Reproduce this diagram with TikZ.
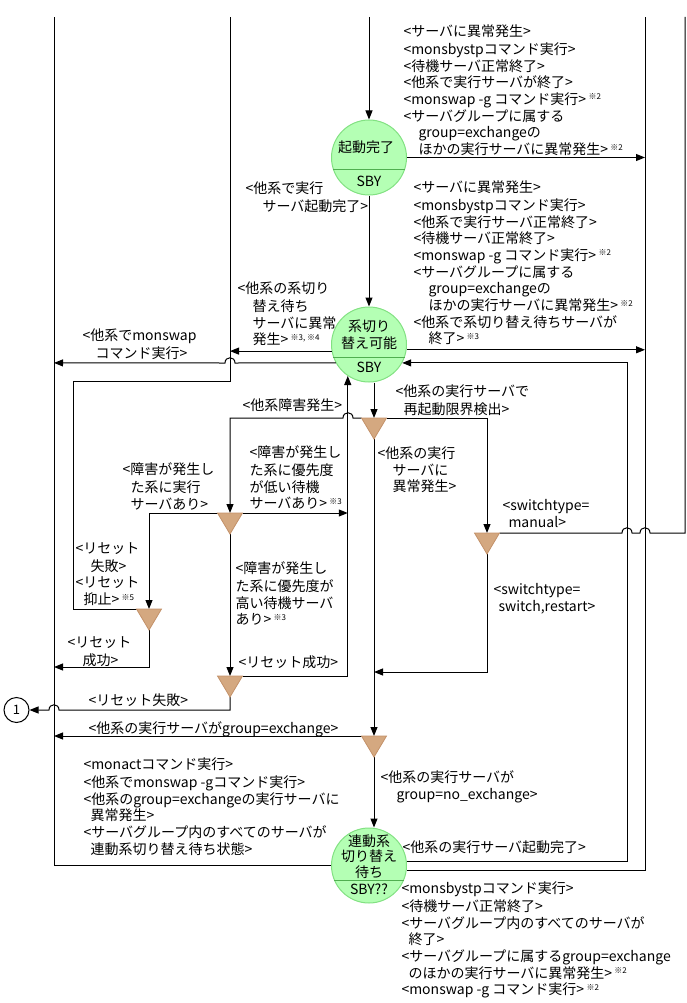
\documentclass[tikz,border=0pt]{standalone}
\usepackage{fontspec}
\setmainfont{Noto Sans CJK JP}
\usetikzlibrary{arrows.meta,calc}
\definecolor{stfill}{RGB}{180,255,180}
\definecolor{stdraw}{RGB}{130,225,130}
\definecolor{stline}{RGB}{80,175,80}
\definecolor{trfill}{RGB}{212,168,128}
\definecolor{trdraw}{RGB}{195,145,105}
\newcommand{\knote}[1]{\,\raisebox{4.5pt}{\fontsize{8}{8}\selectfont #1}}
\begin{document}
\begin{tikzpicture}[x=1pt,y=-1pt,line width=1pt,
  arr/.style={-{Triangle[length=9pt,width=7pt]}},
  stnode/.style={circle,minimum size=75pt,inner sep=0pt,fill=stfill,draw=stdraw,line width=1pt},
  tri/.style={rectangle,minimum width=25pt,minimum height=21pt,inner sep=0pt,outer sep=0pt},
  trishape/.style={fill=trfill,draw=trdraw,line width=0.8pt},
  lbl/.style={inner sep=0pt,anchor=north west,align=left,font=\fontsize{14}{16.7}\selectfont},
  stxt/.style={inner sep=0pt,align=center,font=\fontsize{14}{17}\selectfont},
]
\useasboundingbox (0,0) rectangle (687,1003);

% bus ends at the top
\coordinate (topL) at (54,17);
\coordinate (topA) at (230,17);
\coordinate (topM) at (369,17);
\coordinate (topR) at (645,17);
\coordinate (topRR) at (685,17);
\coordinate (xRet) at (627,0);
\coordinate (y667) at (0,667);
\coordinate (y672) at (0,672);
\coordinate (y710) at (0,710);

% states
\node[stnode] (S1) at (369,157.5) {};
\node[stnode] (S2) at (369,344.5) {};
\node[stnode] (S3) at (369,865.5) {};
\draw[stline] (S1.-19.47) -- (S1.199.47);
\draw[stline] (S2.-20.3) -- (S2.200.3);
\draw[stline] (S3.-24.4) -- (S3.204.4);
\node[stxt] (S1n) at (366,147) {起動完了};
\node[stxt] (S1s) at (369,181) {SBY};
\node[stxt] (S2n) at (369,334.5) {系切り\\替え可能};
\node[stxt] (S2s) at (369,367) {SBY};
\node[stxt,font=\fontsize{14}{15.5}\selectfont] (S3n) at (369,856.5) {連動系\\切り替え\\待ち};
\node[stxt] (S3s) at (369,889) {SBY??};

% decision triangles
\node[tri] (T1) at (374,428.5) {};
\node[tri] (T2) at (230,523.5) {};
\node[tri] (T3) at (149,619.5) {};
\node[tri] (T4) at (487,543.5) {};
\node[tri] (T5) at (230,686.5) {};
\node[tri] (T6) at (374,746.5) {};

% connector end circle
\node[circle,draw,minimum size=25pt,inner sep=0pt,font=\fontsize{13}{13}\selectfont] (C1) at (16.5,710) {1};

% connectors
\draw[arr] (topM) -- (S1.north);
\draw[arr] (S1.east) -- (S1.east -| topR);
\draw[arr] (S1.south) -- (S2.north);
\draw[arr] (S2.-8.4) -- (S2.-8.4 -| topR);
\draw[arr] (S2.190) -- (S2.190 -| topA);
\draw[arr] (S2.209.6) -- (235,363) .. controls (235,356) and (225,356) .. (225,363) -- (S2.209.6 -| topL);
\draw[arr] (S3.6.9) -| (S2.-29.6 -| xRet) -- (S2.-29.6);
\draw (S3.-8.4) -| (topR);
\draw (S3.west) -| (topL);
\draw[arr] (T1.north |- S2.south) -- (T1.north);
\draw[arr] (T1.north west) -- (353,418) .. controls (353,411) and (343,411) .. (343,418) -- (T2.north |- T1.north west) -- (T2.north);
\draw[arr] (T1.north east) -| (T4.north);
\draw[arr] (T1.south) -- (T6.north);
\draw[arr] (T2.north east) -- (T2.north east -| S2.236);
\draw[arr] (T5.north east) -| (S2.236);
\draw[arr] (T2.north west) -| (T3.north);
\draw[arr] (T2.south) -- (T5.north);
\draw[arr] (T3.south) |- (topL |- y667);
\draw (T3.north west) -- (73,609) -- (73,381) -- (230,381) -- (topA);
\draw[arr] (T5.south) |- (59,710) .. controls (59,703) and (49,703) .. (49,710) -- (C1.east);
\draw (T4.north east) -- (622,533) .. controls (622,526) and (632,526) .. (632,533) -- (640,533) .. controls (640,526) and (650,526) .. (650,533) -- (685,533) -- (topRR);
\draw[arr] (T4.south) |- (T1.south |- y672);
\draw[arr] (T6.north west) -- (T6.north west -| topL);
\draw[arr] (T6.south) -- (T6.south |- S3.north);

% triangle shapes
\foreach \t in {T1,T2,T3,T4,T5,T6}{
  \filldraw[trishape] (\t.north west) -- (\t.north east) -- (\t.south) -- cycle;
}

% labels
\node[lbl] (la) at (403,24.3) {\strut<サーバに異常発生>\\<monsbystpコマンド実行>\\<待機サーバ正常終了>\\<他系で実行サーバが終了>\\<monswap -g コマンド実行>\knote{※2}\\<サーバグループに属する\\\hspace*{15pt}group=exchangeの\\\hspace*{15pt}ほかの実行サーバに異常発生>\knote{※2}};
\node[lbl] (lb) at (245,181.3) {\strut<他系で実行\\\hspace*{17pt}サーバ起動完了>};
\node[lbl] (lc) at (413,180.3) {\strut<サーバに異常発生>\\<monsbystpコマンド実行>\\<他系で実行サーバ正常終了>\\<待機サーバ正常終了>\\<monswap -g コマンド実行>\knote{※2}\\<サーバグループに属する\\\hspace*{15pt}group=exchangeの\\\hspace*{15pt}ほかの実行サーバに異常発生>\knote{※2}\\<他系で系切り替え待ちサーバが\\\hspace*{15pt}終了>\knote{※3}};
\node[lbl] (ld) at (237,281.3) {\strut<他系の系切り\\\hspace*{15pt}替え待ち\\\hspace*{15pt}サーバに異常\\\hspace*{15pt}発生>\knote{※3, ※4}};
\node[lbl] (le) at (82,328.3) {\strut<他系でmonswap\\\hspace*{13pt}コマンド実行>};
\node[lbl] (lf) at (395,384.3) {\strut<他系の実行サーバで\\\hspace*{8pt}再起動限界検出>};
\node[lbl] (lg) at (242,398.3) {\strut<他系障害発生>};
\node[lbl] (lh) at (377,446.3) {\strut<他系の実行\\\hspace*{15pt}サーバに\\\hspace*{15pt}異常発生>};
\node[lbl] (li) at (502,498.3) {\strut<switchtype=\\\hspace*{6pt}manual>};
\node[lbl] (lj) at (493,582.3) {\strut<switchtype=\\\hspace*{5pt}switch,restart>};
\node[lbl] (lk) at (249,445.3) {\strut<障害が発生し\\た系に優先度\\が低い待機\\サーバあり>\knote{※3}};
\node[lbl] (ll) at (122,462.3) {\strut<障害が発生し\\\hspace*{8pt}た系に実行\\\hspace*{8pt}サーバあり>};
\node[lbl] (lm) at (75,541.3) {\strut<リセット\\\hspace*{15pt}失敗>\\<リセット\\\hspace*{8pt}抑止>\knote{※5}};
\node[lbl] (ln) at (235,561.3) {\strut<障害が発生し\\た系に優先度が\\高い待機サーバ\\あり>\knote{※3}};
\node[lbl] (lo) at (67,635.3) {\strut<リセット\\\hspace*{15pt}成功>};
\node[lbl] (lp) at (238,655.3) {\strut<リセット成功>};
\node[lbl] (lq) at (88,693.3) {\strut<リセット失敗>};
\node[lbl] (lr) at (88,721.3) {\strut<他系の実行サーバがgroup=exchange>};
\node[lbl] (ls) at (83,757.3) {\strut<monactコマンド実行>\\<他系でmonswap -gコマンド実行>\\<他系のgroup=exchangeの実行サーバに\\\hspace*{7pt}異常発生>\\<サーバグループ内のすべてのサーバが\\\hspace*{7pt}連動系切り替え待ち状態>};
\node[lbl] (lt) at (380,770.3) {\strut<他系の実行サーバが\\\hspace*{16pt}group=no\_exchange>};
\node[lbl] (lu) at (402,840.3) {\strut<他系の実行サーバ起動完了>};
\node[lbl] (lv) at (401,881.3) {\strut<monsbystpコマンド実行>\\<待機サーバ正常終了>\\<サーバグループ内のすべてのサーバが\\\hspace*{7pt}終了>\\<サーバグループに属するgroup=exchange\\\hspace*{7pt}のほかの実行サーバに異常発生>\knote{※2}\\<monswap -g コマンド実行>\knote{※2}};
\end{tikzpicture}
\end{document}
